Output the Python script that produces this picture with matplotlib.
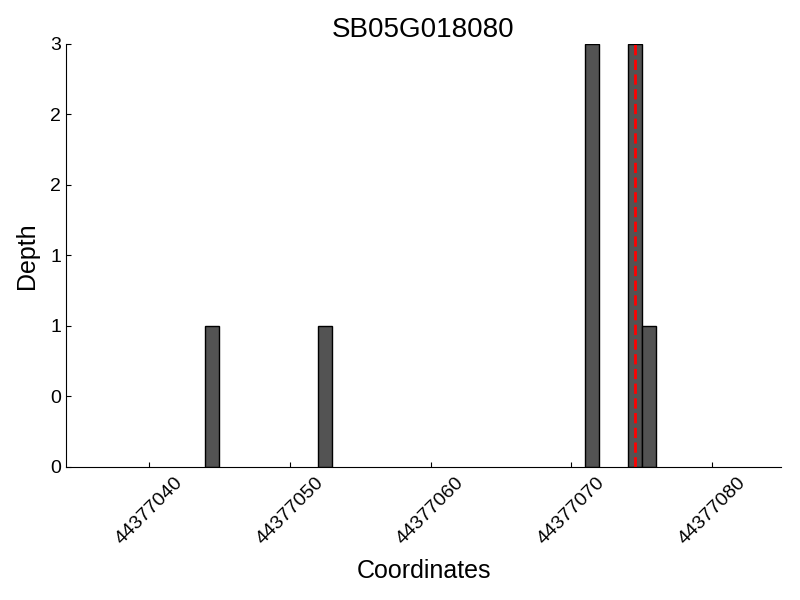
import matplotlib
matplotlib.use("Agg")
import matplotlib.pyplot as plt
from matplotlib.ticker import FormatStrFormatter

plt.rcParams['font.family'] = ['Liberation Sans', 'DejaVu Sans']

title = "SB05G018080"
positions = [44377044, 44377052, 44377071, 44377074, 44377075]
depths = [1, 1, 3, 3, 1]
marker_pos = 44377074.5
xticks = [44377040, 44377050, 44377060, 44377070, 44377080]
yticks = [0, 0.5, 1, 1.5, 2, 2.5, 3]

fig = plt.figure(figsize=(8, 6), dpi=100)
ax = fig.add_axes([0.0825, 0.2217, 0.8938, 0.705])
ax.bar(positions, depths, width=1, align='edge', color='#535353',
       edgecolor='black', linewidth=1)
ax.axvline(marker_pos, color='red', linestyle='--', linewidth=2)
ax.set_xlim(44377034.1, 44377084.9)
ax.set_ylim(0, 3)
ax.set_xticks(xticks)
ax.set_xticklabels([str(x) for x in xticks], rotation=45, fontsize=14)
ax.set_yticks(yticks)
ax.yaxis.set_major_formatter(FormatStrFormatter('%d'))
ax.tick_params(axis='y', labelsize=14)
ax.tick_params(direction='in', top=False, right=False)
ax.tick_params(axis='x', pad=5)
ax.spines['top'].set_visible(False)
ax.spines['right'].set_visible(False)
ax.set_title(title, fontsize=20, pad=5)
ax.set_xlabel("Coordinates", fontsize=18, labelpad=8)
ax.set_ylabel("Depth", fontsize=18, labelpad=8)
fig.savefig("out.png", dpi=100)
